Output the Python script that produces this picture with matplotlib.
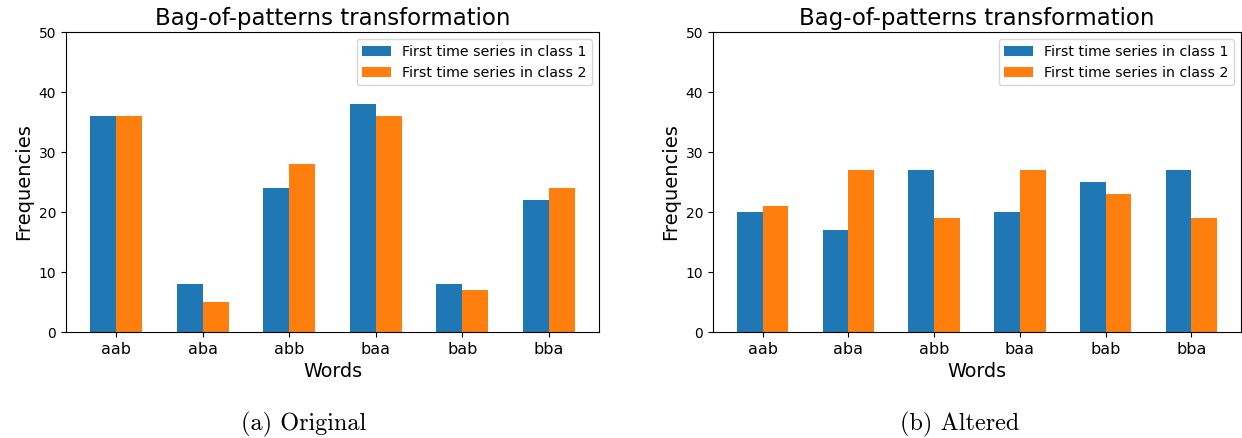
import matplotlib
matplotlib.use("Agg")
import matplotlib.pyplot as plt
import numpy as np

words = ["aab", "aba", "abb", "baa", "bab", "bba"]

original_class1 = [36, 8, 24, 38, 8, 22]
original_class2 = [36, 5, 28, 36, 7, 24]

altered_class1 = [20, 17, 27, 20, 25, 27]
altered_class2 = [21, 27, 19, 27, 23, 19]

label1 = "First time series in class 1"
label2 = "First time series in class 2"
captions = ["(a) Original", "(b) Altered"]

W, H = 1242, 438
fig = plt.figure(figsize=(W / 100, H / 100), dpi=100)

ax_left = fig.add_axes([66 / W, (H - 332) / H, 533 / W, 300 / H])
ax_right = fig.add_axes([713 / W, (H - 332) / H, 528 / W, 300 / H])

width = 0.3
x = np.arange(len(words))


def draw(ax, s1, s2):
    ax.bar(x - width / 2, s1, width, color="tab:blue", label=label1)
    ax.bar(x + width / 2, s2, width, color="tab:orange", label=label2)
    ax.set_xticks(x)
    ax.set_xticklabels(words, fontsize=11.5)
    ax.set_ylim(0, 50)
    ax.set_yticks(range(0, 51, 10))
    ax.tick_params(axis="y", labelsize=10)
    ax.set_xlabel("Words", fontsize=13.8)
    ax.set_ylabel("Frequencies", fontsize=14)
    ax.set_title("Bag-of-patterns transformation", fontsize=16.5, pad=5)
    ax.legend(loc="upper right", fontsize=10.2)


draw(ax_left, original_class1, original_class2)
draw(ax_right, altered_class1, altered_class2)

fig.text(304 / W, 1 - 424 / H, captions[0], ha="center", va="center",
         fontsize=17.5, family="cmr10")
fig.text(960 / W, 1 - 424 / H, captions[1], ha="center", va="center",
         fontsize=17.5, family="cmr10")

fig.savefig("out.png", dpi=100)
